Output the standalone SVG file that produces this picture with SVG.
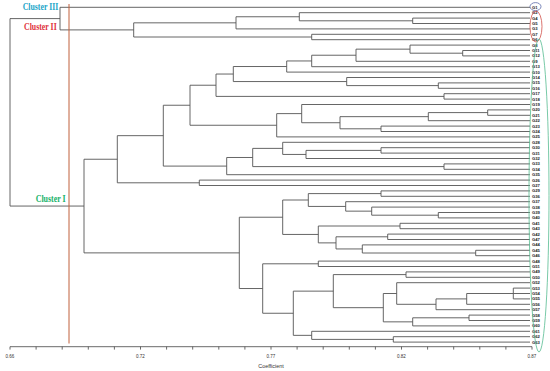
<svg xmlns="http://www.w3.org/2000/svg" width="550" height="371" viewBox="0 0 550 371">
<style>
.t{fill:none;stroke:#555;stroke-width:0.9}
.ax{fill:none;stroke:#444;stroke-width:0.8}
.lf{font-family:"Liberation Sans",Arial,sans-serif;font-size:4.2px;font-weight:bold;fill:#222}
.tk{font-family:"Liberation Sans",Arial,sans-serif;font-size:4.5px;fill:#333;text-anchor:middle}
.cl{font-family:"Liberation Serif","Times New Roman",serif;font-size:10.5px;font-weight:bold}
</style>
<rect width="550" height="371" fill="#fff"/>
<g id="connectors" class="t">
<path d="M60 18.6H10V206.06H84"/>
<path d="M530 7.3H60V29.9H133.7"/>
<path d="M236 22.83H133.7V37H311.7"/>
<path d="M299.3 16.75H236V28.9H530"/>
<path d="M530 12.7H299.3V20.8H412.7"/>
<path d="M530 18.1H412.7V23.5H530"/>
<path d="M530 34.3H311.7V39.7H530"/>
<path d="M117.3 159.24H84V252.88H239.3"/>
<path d="M163.3 135.67H117.3V182.8H199.3"/>
<path d="M530 180.1H199.3V185.5H530"/>
<path d="M190 105.24H163.3V166.1H226.7"/>
<path d="M216 85.22H190V125.26H276.7"/>
<path d="M233.3 74.04H216V96.4H444"/>
<path d="M286.7 66.53H233.3V81.55H346.7"/>
<path d="M311.7 60.96H286.7V72.1H530"/>
<path d="M356 55.23H311.7V66.7H530"/>
<path d="M410 49.15H356V61.3H530"/>
<path d="M530 45.1H410V53.2H462.7"/>
<path d="M530 50.5H462.7V55.9H530"/>
<path d="M530 77.5H346.7V85.6H438.3"/>
<path d="M530 82.9H438.3V88.3H530"/>
<path d="M530 93.7H444V99.1H530"/>
<path d="M301.7 113.61H276.7V136.9H530"/>
<path d="M530 104.5H301.7V122.73H340"/>
<path d="M428.3 116.65H340V128.8H381"/>
<path d="M487.7 112.6H428.3V120.7H530"/>
<path d="M530 109.9H487.7V115.3H530"/>
<path d="M530 126.1H381V131.5H530"/>
<path d="M252.7 157.49H226.7V174.7H530"/>
<path d="M282.7 148.38H252.7V166.6H444"/>
<path d="M530 142.3H282.7V154.45H306"/>
<path d="M381 150.4H306V158.5H530"/>
<path d="M530 147.7H381V153.1H530"/>
<path d="M530 163.9H444V169.3H530"/>
<path d="M282.7 217.22H239.3V288.53H262.7"/>
<path d="M308.3 200.01H282.7V234.44H318.3"/>
<path d="M381 193.6H308.3V206.43H345.7"/>
<path d="M530 190.9H381V196.3H530"/>
<path d="M530 201.7H345.7V211.15H371.7"/>
<path d="M530 207.1H371.7V215.2H438.3"/>
<path d="M530 212.5H438.3V217.9H530"/>
<path d="M400 226H318.3V242.88H336"/>
<path d="M530 223.3H400V228.7H530"/>
<path d="M387.7 236.8H336V248.95H362.3"/>
<path d="M530 234.1H387.7V239.5H530"/>
<path d="M530 244.9H362.3V253H475.7"/>
<path d="M530 250.3H475.7V255.7H530"/>
<path d="M318.3 263.8H262.7V313.25H293.3"/>
<path d="M530 261.1H318.3V266.5H530"/>
<path d="M333.3 291.14H293.3V335.35H311.7"/>
<path d="M406 274.6H333.3V307.68H383.3"/>
<path d="M530 271.9H406V277.3H530"/>
<path d="M396.7 293.5H383.3V321.85H412.7"/>
<path d="M530 282.7H396.7V304.3H436"/>
<path d="M466.7 298.9H436V309.7H530"/>
<path d="M513.3 293.5H466.7V304.3H530"/>
<path d="M530 288.1H513.3V298.9H530M513.3 293.5H530"/>
<path d="M469 317.8H412.7V325.9H530"/>
<path d="M530 315.1H469V320.5H530"/>
<path d="M530 331.3H311.7V339.4H393.3"/>
<path d="M530 336.7H393.3V342.1H530"/>
</g>
<g id="leaves" class="lf">
<g id="leaf-G1"><text x="532" y="8.8">G1</text></g>
<g id="leaf-G2"><text x="532" y="14.2">G2</text></g>
<g id="leaf-G4"><text x="532" y="19.6">G4</text></g>
<g id="leaf-G5"><text x="532" y="25">G5</text></g>
<g id="leaf-G3"><text x="532" y="30.4">G3</text></g>
<g id="leaf-G7"><text x="532" y="35.8">G7</text></g>
<g id="leaf-G6"><text x="532" y="41.2">G6</text></g>
<g id="leaf-G8"><text x="532" y="46.6">G8</text></g>
<g id="leaf-G11"><text x="532" y="52">G11</text></g>
<g id="leaf-G12"><text x="532" y="57.4">G12</text></g>
<g id="leaf-G9"><text x="532" y="62.8">G9</text></g>
<g id="leaf-G13"><text x="532" y="68.2">G13</text></g>
<g id="leaf-G10"><text x="532" y="73.6">G10</text></g>
<g id="leaf-G14"><text x="532" y="79">G14</text></g>
<g id="leaf-G15"><text x="532" y="84.4">G15</text></g>
<g id="leaf-G16"><text x="532" y="89.8">G16</text></g>
<g id="leaf-G17"><text x="532" y="95.2">G17</text></g>
<g id="leaf-G18"><text x="532" y="100.6">G18</text></g>
<g id="leaf-G19"><text x="532" y="106">G19</text></g>
<g id="leaf-G20"><text x="532" y="111.4">G20</text></g>
<g id="leaf-G21"><text x="532" y="116.8">G21</text></g>
<g id="leaf-G22"><text x="532" y="122.2">G22</text></g>
<g id="leaf-G23"><text x="532" y="127.6">G23</text></g>
<g id="leaf-G24"><text x="532" y="133">G24</text></g>
<g id="leaf-G25"><text x="532" y="138.4">G25</text></g>
<g id="leaf-G28"><text x="532" y="143.8">G28</text></g>
<g id="leaf-G30"><text x="532" y="149.2">G30</text></g>
<g id="leaf-G31"><text x="532" y="154.6">G31</text></g>
<g id="leaf-G32"><text x="532" y="160">G32</text></g>
<g id="leaf-G33"><text x="532" y="165.4">G33</text></g>
<g id="leaf-G34"><text x="532" y="170.8">G34</text></g>
<g id="leaf-G35"><text x="532" y="176.2">G35</text></g>
<g id="leaf-G26"><text x="532" y="181.6">G26</text></g>
<g id="leaf-G27"><text x="532" y="187">G27</text></g>
<g id="leaf-G29"><text x="532" y="192.4">G29</text></g>
<g id="leaf-G36"><text x="532" y="197.8">G36</text></g>
<g id="leaf-G37"><text x="532" y="203.2">G37</text></g>
<g id="leaf-G38"><text x="532" y="208.6">G38</text></g>
<g id="leaf-G39"><text x="532" y="214">G39</text></g>
<g id="leaf-G40"><text x="532" y="219.4">G40</text></g>
<g id="leaf-G41"><text x="532" y="224.8">G41</text></g>
<g id="leaf-G43"><text x="532" y="230.2">G43</text></g>
<g id="leaf-G42"><text x="532" y="235.6">G42</text></g>
<g id="leaf-G47"><text x="532" y="241">G47</text></g>
<g id="leaf-G44"><text x="532" y="246.4">G44</text></g>
<g id="leaf-G45"><text x="532" y="251.8">G45</text></g>
<g id="leaf-G46"><text x="532" y="257.2">G46</text></g>
<g id="leaf-G48"><text x="532" y="262.6">G48</text></g>
<g id="leaf-G51"><text x="532" y="268">G51</text></g>
<g id="leaf-G49"><text x="532" y="273.4">G49</text></g>
<g id="leaf-G50"><text x="532" y="278.8">G50</text></g>
<g id="leaf-G52"><text x="532" y="284.2">G52</text></g>
<g id="leaf-G53"><text x="532" y="289.6">G53</text></g>
<g id="leaf-G54"><text x="532" y="295">G54</text></g>
<g id="leaf-G55"><text x="532" y="300.4">G55</text></g>
<g id="leaf-G56"><text x="532" y="305.8">G56</text></g>
<g id="leaf-G57"><text x="532" y="311.2">G57</text></g>
<g id="leaf-G58"><text x="532" y="316.6">G58</text></g>
<g id="leaf-G59"><text x="532" y="322">G59</text></g>
<g id="leaf-G60"><text x="532" y="327.4">G60</text></g>
<g id="leaf-G61"><text x="532" y="332.8">G61</text></g>
<g id="leaf-G62"><text x="532" y="338.2">G62</text></g>
<g id="leaf-G63"><text x="532" y="343.6">G63</text></g>
</g>
<g id="cluster-outlines" fill="none" stroke-width="0.8">
<ellipse cx="535.5" cy="6.6" rx="5.5" ry="4" stroke="#5a6aa8"/>
<ellipse cx="536" cy="26.5" rx="6" ry="15.5" stroke="#d0504a"/>
<ellipse cx="539" cy="195.5" rx="10" ry="156.5" stroke="#55bb90"/>
</g>
<g id="cut-line"><line x1="69" y1="4" x2="69" y2="343.5" stroke="#c0603c" stroke-width="1"/></g>
<g id="cluster-labels" class="cl">
<g id="cluster-III"><text x="22.7" y="10" fill="#1ba6c9" textLength="35.6" lengthAdjust="spacingAndGlyphs">Cluster III</text></g>
<g id="cluster-II"><text x="24" y="30" fill="#e0323c" textLength="32.7" lengthAdjust="spacingAndGlyphs">Cluster II</text></g>
<g id="cluster-I"><text x="35.7" y="201.5" fill="#18b26a" textLength="30" lengthAdjust="spacingAndGlyphs">Cluster I</text></g>
</g>
<g id="axis">
<path class="ax" d="M10 346.7H532M10 346.7V349.6M36.1 346.7V349.6M62.2 346.7V349.6M88.3 346.7V349.6M114.4 346.7V349.6M140.5 346.7V349.6M166.6 346.7V349.6M192.7 346.7V349.6M218.8 346.7V349.6M244.9 346.7V349.6M271 346.7V349.6M297.1 346.7V349.6M323.2 346.7V349.6M349.3 346.7V349.6M375.4 346.7V349.6M401.5 346.7V349.6M427.6 346.7V349.6M453.7 346.7V349.6M479.8 346.7V349.6M505.9 346.7V349.6M532 346.7V349.6"/>
<text class="tk" x="10" y="357.6">0.66</text>
<text class="tk" x="140.5" y="357.6">0.72</text>
<text class="tk" x="271" y="357.6">0.77</text>
<text class="tk" x="401.5" y="357.6">0.82</text>
<text class="tk" x="532" y="357.6">0.87</text>
<text class="tk" x="271" y="367.5" font-size="5.2" textLength="25.5" lengthAdjust="spacingAndGlyphs">Coefficient</text>
</g>
</svg>
